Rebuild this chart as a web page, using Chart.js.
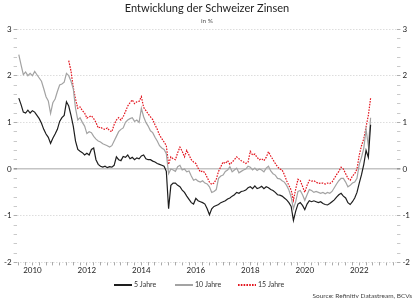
<!DOCTYPE html>
<html>
<head>
<meta charset="utf-8">
<script src="https://cdn.jsdelivr.net/npm/chart.js@4.4.1/dist/chart.umd.min.js"></script>
<style>
  html, body { margin: 0; padding: 0; background: #fff; }
  #wrap { width: 416px; height: 302px; }
</style>
</head>
<body>
<div id="wrap"><canvas id="chart"></canvas></div>
<script>
// ── Daten (Monatswerte ab Juli 2009, Rendite in %) ─────────────────────────
const START_YEAR = 2009.5;
const SERIES_NAMES = ['5 Jahre', '10 Jahre', '15 Jahre'];
const TITLE = 'Entwicklung der Schweizer Zinsen';
const SUBTITLE = 'in %';
const SOURCE = 'Source: Refinitiv Datastream, BCVs';
const YEAR_LABELS = [2010, 2012, 2014, 2016, 2018, 2020, 2022];

const yield5 = [
  1.52, 1.38, 1.22, 1.20, 1.26, 1.20, 1.25, 1.22, 1.15, 1.08,
  0.98, 0.85, 0.75, 0.68, 0.55, 0.66, 0.75, 0.85, 1.02, 1.10,
  1.15, 1.44, 1.35, 1.15, 0.92, 0.60, 0.42, 0.38, 0.35, 0.30,
  0.34, 0.30, 0.42, 0.45, 0.20, 0.10, 0.06, 0.04, 0.06, 0.03,
  0.05, 0.04, 0.08, 0.26, 0.20, 0.18, 0.27, 0.25, 0.30, 0.22,
  0.25, 0.20, 0.24, 0.22, 0.28, 0.30, 0.22, 0.20, 0.20, 0.17,
  0.15, 0.12, 0.10, 0.08, 0.06, -0.05, -0.85, -0.35, -0.30, -0.30,
  -0.35, -0.38, -0.45, -0.50, -0.58, -0.65, -0.72, -0.75, -0.63, -0.68,
  -0.70, -0.72, -0.75, -0.85, -0.98, -0.85, -0.80, -0.78, -0.76, -0.72,
  -0.70, -0.68, -0.64, -0.62, -0.58, -0.55, -0.50, -0.52, -0.48, -0.47,
  -0.45, -0.40, -0.38, -0.42, -0.36, -0.42, -0.40, -0.37, -0.42, -0.38,
  -0.40, -0.44, -0.46, -0.50, -0.55, -0.56, -0.58, -0.62, -0.66, -0.72,
  -0.80, -1.10, -0.90, -0.75, -0.72, -0.78, -0.87, -0.75, -0.68, -0.70,
  -0.68, -0.70, -0.72, -0.70, -0.74, -0.76, -0.77, -0.74, -0.70, -0.66,
  -0.60, -0.55, -0.52, -0.58, -0.62, -0.72, -0.76, -0.70, -0.62, -0.50,
  -0.30, -0.12, 0.10, 0.40, 0.25, 0.95
];

const yield10 = [
  2.45, 2.23, 2.02, 2.08, 2.00, 2.05, 2.00, 2.09, 2.02, 1.95,
  1.88, 1.72, 1.55, 1.46, 1.19, 1.42, 1.50, 1.66, 1.80, 1.82,
  1.86, 2.05, 2.00, 1.88, 1.72, 1.30, 1.05, 1.10, 1.00, 0.92,
  0.76, 0.80, 0.78, 0.70, 0.64, 0.60, 0.58, 0.54, 0.52, 0.50,
  0.47, 0.50, 0.60, 0.70, 0.80, 0.85, 0.88, 1.00, 1.05, 1.08,
  1.10, 1.02, 1.05, 1.00, 1.30, 1.12, 1.00, 0.92, 0.82, 0.78,
  0.68, 0.60, 0.50, 0.45, 0.42, 0.33, -0.10, 0.00, -0.02, -0.05,
  0.05, 0.08, -0.02, 0.00, -0.06, -0.04, -0.15, -0.24, -0.22, -0.26,
  -0.28, -0.25, -0.30, -0.32, -0.38, -0.50, -0.48, -0.44, -0.20, -0.15,
  -0.13, -0.05, -0.02, 0.05, -0.06, -0.02, 0.02, -0.08, -0.05, -0.02,
  0.00, 0.06, 0.04, -0.02, 0.02, -0.03, 0.00, -0.02, -0.06, 0.02,
  0.06, -0.04, -0.10, -0.13, -0.20, -0.21, -0.25, -0.28, -0.35, -0.45,
  -0.60, -0.85, -0.70, -0.48, -0.46, -0.55, -0.67, -0.55, -0.44, -0.46,
  -0.50, -0.48, -0.50, -0.52, -0.50, -0.53, -0.50, -0.52, -0.48, -0.40,
  -0.32, -0.25, -0.20, -0.20, -0.28, -0.38, -0.35, -0.30, -0.28, -0.20,
  0.10, 0.25, 0.45, 0.85, 0.50, 1.10
];

// 15 Jahre: Reihe beginnt erst im Mai 2011
const yield15 = [
  null, null, null, null, null, null, null, null, null, null,
  null, null, null, null, null, null, null, null, null, null,
  null, null, 2.32, 2.10, 1.75, 1.50, 1.30, 1.33, 1.25, 1.20,
  1.09, 1.12, 1.14, 1.08, 1.00, 0.88, 0.90, 0.86, 0.85, 0.88,
  0.82, 0.80, 0.95, 1.05, 1.10, 1.05, 1.12, 1.23, 1.35, 1.42,
  1.48, 1.40, 1.44, 1.45, 1.55, 1.32, 1.25, 1.18, 1.12, 1.06,
  0.95, 0.85, 0.73, 0.65, 0.58, 0.50, 0.10, 0.26, 0.22, 0.20,
  0.35, 0.47, 0.38, 0.26, 0.40, 0.30, 0.20, 0.15, 0.12, 0.02,
  -0.06, -0.04, -0.08, -0.18, -0.28, -0.33, -0.30, -0.22, -0.05, 0.05,
  0.15, 0.12, 0.18, 0.10, 0.15, 0.20, 0.26, 0.22, 0.18, 0.15,
  0.12, 0.15, 0.38, 0.30, 0.32, 0.25, 0.20, 0.22, 0.18, 0.25,
  0.37, 0.28, 0.20, 0.12, 0.05, 0.00, -0.02, -0.12, -0.25, -0.35,
  -0.45, -0.67, -0.43, -0.22, -0.25, -0.37, -0.50, -0.35, -0.24, -0.26,
  -0.25, -0.28, -0.31, -0.30, -0.30, -0.32, -0.30, -0.31, -0.28, -0.20,
  -0.12, -0.05, 0.04, 0.00, -0.10, -0.20, -0.24, -0.15, -0.10, 0.00,
  0.30, 0.50, 0.65, 0.90, 1.15, 1.52
];

// ── Helfer ────────────────────────────────────────────────────────────────
const FONT = 'Lato, "Open Sans", sans-serif';
const toPoints = arr => arr.map((v, i) => ({ x: START_YEAR + i / 12, y: v }));
const isWhole  = v => Math.abs(v - Math.round(v)) < 1e-6;
const isZero   = v => Math.abs(v) < 1e-6;

// Legende + Quellenangabe unter dem Diagramm
const LEGEND_X = [114, 175, 238];
const footer = {
  id: 'footer',
  afterDraw(chart) {
    const c = chart.ctx;
    c.save();
    c.font = `7px ${FONT}`;
    c.textBaseline = 'middle';
    chart.data.datasets.forEach((ds, i) => {
      const x = LEGEND_X[i], y = 285;
      c.strokeStyle = ds.borderColor;
      c.lineWidth = 2;
      c.setLineDash(ds.borderDash || []);
      c.beginPath(); c.moveTo(x, y); c.lineTo(x + 18, y); c.stroke();
      c.fillStyle = '#333';
      c.textAlign = 'left';
      c.fillText(ds.label, x + 20, y);
    });
    c.font = `6.5px ${FONT}`;
    c.fillStyle = '#444';
    c.textAlign = 'right';
    c.fillText(SOURCE, 412, 296);
    c.restore();
  }
};

const yAxis = (position, main) => ({
  position,
  min: -2, max: 3,
  ticks: {
    stepSize: 0.2, autoSkip: false, maxTicksLimit: 1000, color: '#222', padding: 2,
    font: { family: FONT, size: 8 },
    callback: v => isWhole(v) ? String(Math.round(v)) : ''
  },
  grid: {
    drawOnChartArea: main,
    tickLength: 3,
    tickColor: ctx => isWhole(ctx.tick.value) ? '#999' : '#bbb',
    color: ctx => isZero(ctx.tick.value) ? '#c4c4c4' : isWhole(ctx.tick.value) ? '#d4d4d4' : 'transparent',
    lineWidth: ctx => isZero(ctx.tick.value) ? 1.6 : 0.8
  },
  border: { display: false, dash: ctx => isZero(ctx.tick.value) ? [] : [1.5, 1.5] }
});

new Chart(document.getElementById('chart'), {
  type: 'line',
  data: {
    datasets: [
      { label: SERIES_NAMES[0], data: toPoints(yield5),  borderColor: '#1e1e1e', borderWidth: 1.2 },
      { label: SERIES_NAMES[1], data: toPoints(yield10), borderColor: '#a3a3a3', borderWidth: 1.2 },
      { label: SERIES_NAMES[2], data: toPoints(yield15), borderColor: '#e3151e', borderWidth: 1.2, borderDash: [1.6, 1.2] }
    ]
  },
  options: {
    responsive: true, maintainAspectRatio: false, animation: false,
    elements: { point: { radius: 0 }, line: { tension: 0 } },
    layout: { padding: { left: 2, right: 4, top: 0, bottom: 27 } },
    plugins: {
      title: {
        display: true, text: TITLE, color: '#222',
        font: { family: FONT, size: 11, weight: 'normal' },
        padding: { top: 2, bottom: 0 }
      },
      subtitle: {
        display: true, text: SUBTITLE, color: '#555',
        font: { family: FONT, size: 6.5 },
        padding: { top: 2, bottom: 4 }
      },
      legend: { display: false },
      tooltip: { enabled: false }
    },
    scales: {
      x: {
        type: 'linear', min: 2009.42, max: 2023.4,
        ticks: {
          stepSize: 0.25, includeBounds: false, autoSkip: false, maxRotation: 0,
          maxTicksLimit: 1000, color: '#222', padding: 0,
          font: { family: FONT, size: 8 },
          callback: v => YEAR_LABELS.includes(v) ? String(v) : ''
        },
        grid: { drawOnChartArea: false, tickLength: 3, tickColor: '#aaa' },
        border: { display: false }
      },
      y:  yAxis('left', true),
      y2: yAxis('right', false)
    }
  },
  plugins: [footer]
});
</script>
</body>
</html>
